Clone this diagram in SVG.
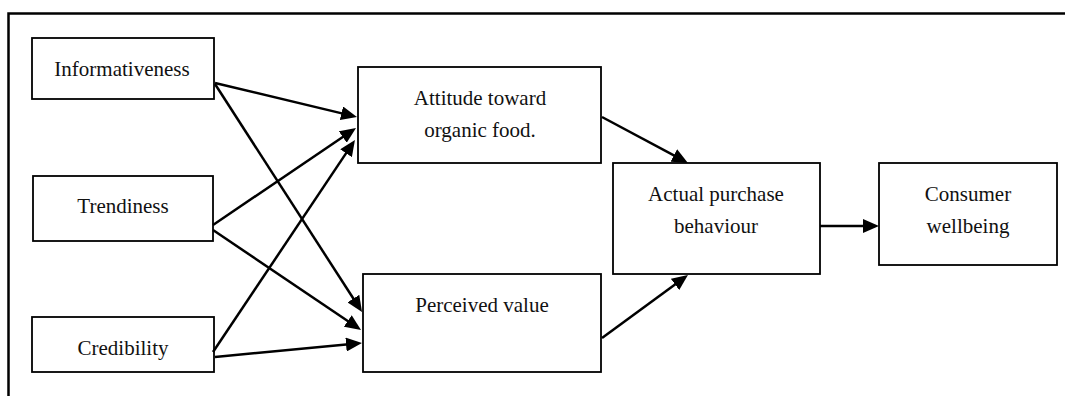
<svg xmlns="http://www.w3.org/2000/svg" width="1065" height="396" viewBox="0 0 1065 396">
<style>
.box{fill:#fff;stroke:#000;stroke-width:1.8}
.lbl{font-family:"Liberation Serif","Times New Roman",serif;font-size:21px;fill:#111;text-anchor:middle}
.con{stroke:#000;stroke-width:2.5;fill:none;marker-end:url(#ah)}
.frame{stroke:#000;stroke-width:2.5;fill:none}
</style>
<defs>
<marker id="ah" markerUnits="userSpaceOnUse" markerWidth="16" markerHeight="14" refX="8" refY="7" orient="auto" viewBox="0 0 16 14">
<path d="M0,0 L16,7 L0,14 z" fill="#000"/>
</marker>
</defs>
<rect width="1065" height="396" fill="#fff"/>
<path class="frame" d="M8.5,396 L8.5,13.5 L1065,13.5"/>
<g id="informativeness"><rect class="box" x="32" y="38" width="182" height="61"/><text class="lbl" x="122" y="76">Informativeness</text></g>
<g id="trendiness"><rect class="box" x="33" y="176" width="180" height="65"/><text class="lbl" x="123" y="213">Trendiness</text></g>
<g id="credibility"><rect class="box" x="32" y="317" width="182" height="55"/><text class="lbl" x="123" y="355">Credibility</text></g>
<g id="attitude"><rect class="box" x="358" y="67" width="243" height="96"/><text class="lbl" x="480" y="105">Attitude toward</text><text class="lbl" x="480" y="137">organic food.</text></g>
<g id="perceived"><rect class="box" x="363" y="274" width="238" height="98"/><text class="lbl" x="482" y="312">Perceived value</text></g>
<g id="actual"><rect class="box" x="613" y="163" width="207" height="111"/><text class="lbl" x="716" y="201">Actual purchase</text><text class="lbl" x="716" y="233">behaviour</text></g>
<g id="wellbeing"><rect class="box" x="879" y="163" width="178" height="102"/><text class="lbl" x="968" y="201">Consumer</text><text class="lbl" x="968" y="233">wellbeing</text></g>
<g id="connectors">
<line class="con" x1="215" y1="83" x2="349.2" y2="115.1"/>
<line class="con" x1="215" y1="84" x2="357.7" y2="305.3"/>
<line class="con" x1="213" y1="225" x2="349.4" y2="132.5"/>
<line class="con" x1="213" y1="230" x2="354.4" y2="325.5"/>
<line class="con" x1="213" y1="352" x2="350.5" y2="146.6"/>
<line class="con" x1="215" y1="357" x2="354" y2="343.8"/>
<line class="con" x1="602" y1="117" x2="680.9" y2="159.2"/>
<line class="con" x1="602" y1="338" x2="681.5" y2="279.7"/>
<line class="con" x1="820" y1="226" x2="871" y2="226"/>
</g>
</svg>
